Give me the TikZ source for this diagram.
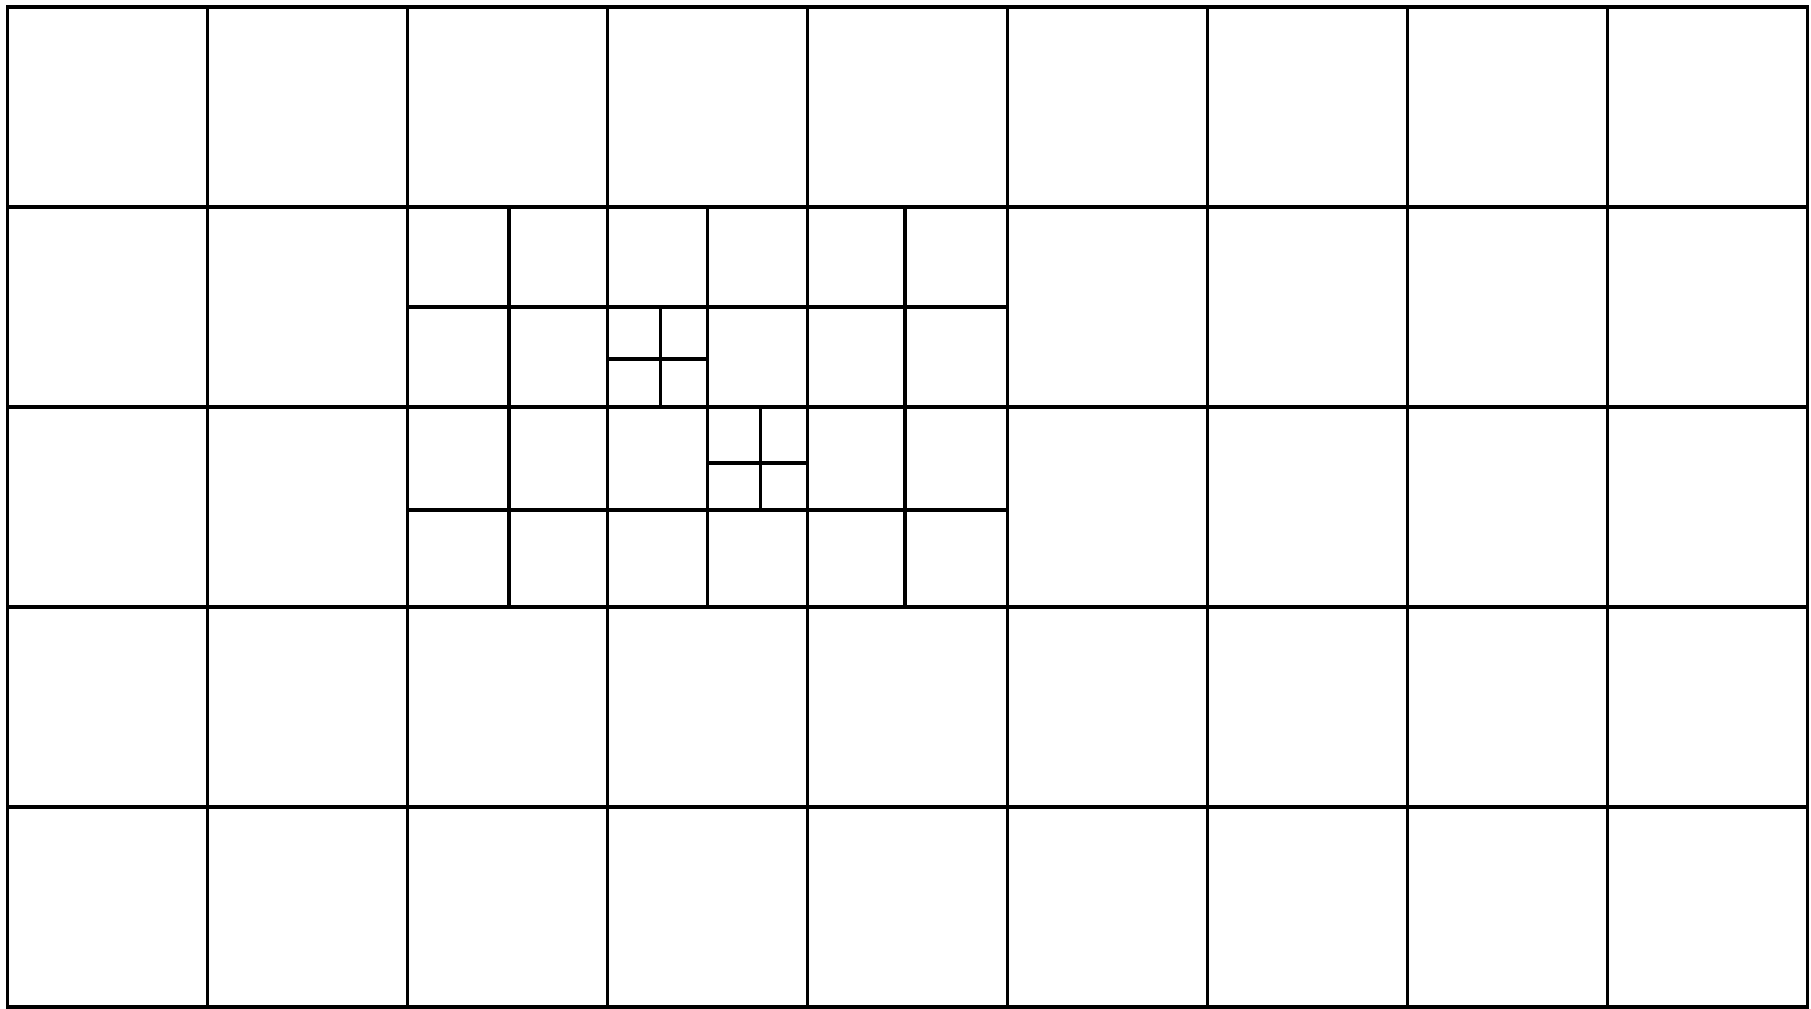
\documentclass[tikz,border=0pt]{standalone}
\usepackage{tikz}
\begin{document}
\begin{tikzpicture}[
  gridline/.style={line width=0.034cm, black, line cap=rect},
]
\useasboundingbox (0,0) rectangle (18.11,10.08);
\fill[white] (0,0) rectangle (18.11,10.08);

\begin{scope}[shift={(0.075,0.01)}]
% coarse mesh, 9 x 5 cells
\draw[gridline] (0,0) grid[step=2] (18,10);

% first refinement of the block x 4..10, y 4..8
\foreach \xx in {5.015, 7.0, 8.975}
  \draw[gridline] (\xx,4) -- (\xx,8);
\foreach \yy in {4.97, 7.0}
  \draw[gridline] (4,\yy) -- (10,\yy);

% second refinement
\draw[gridline] (6.53,6) -- (6.53,7);
\draw[gridline] (6,6.48) -- (7,6.48);
\draw[gridline] (7.53,4.97) -- (7.53,6);
\draw[gridline] (7,5.44) -- (8,5.44);
\end{scope}

\end{tikzpicture}
\end{document}
